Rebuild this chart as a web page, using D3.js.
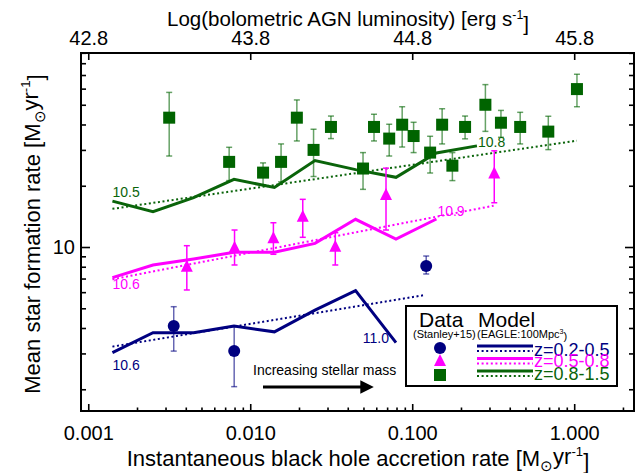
<!DOCTYPE html>
<html>
<head>
<meta charset="utf-8">
<script src="https://cdn.jsdelivr.net/npm/d3@7"></script>
<style>
  body { margin: 0; background: #fff; }
  text { font-family: "Liberation Sans", Arial, sans-serif; }
</style>
</head>
<body>
<div id="chart"></div>
<script>
// Stanley+15 data: black hole accretion rate, mean SFR, error bar low / high
const greenBHAR = [0.00316, 0.00741, 0.0120, 0.0155, 0.0194, 0.0246, 0.0315, 0.0497, 0.0581, 0.0721,
  0.0867, 0.102, 0.129, 0.153, 0.177, 0.212, 0.283, 0.353, 0.464, 0.692, 1.04];
const greenSFR = [43.2, 26.2, 23.2, 26.2, 43.2, 30.0, 38.9, 24.3, 38.9, 34.1,
  39.9, 35.1, 29.1, 39.9, 25.1, 38.9, 50.0, 40.8, 38.9, 36.9, 59.7];
const greenLo = [28.0, 21.2, 20.2, 20.9, 33.2, 22.2, 34.1, 19.2, 33.2, 28.0,
  31.0, 29.1, 23.1, 32.1, 21.2, 34.0, 37.0, 34.6, 32.1, 30.1, 48.9];
const greenHi = [57.5, 30.9, 25.9, 32.1, 52.8, 37.9, 44.0, 29.1, 44.9, 40.1,
  48.9, 41.0, 35.0, 47.8, 29.1, 44.0, 62.8, 46.9, 45.9, 43.9, 70.6];

const pinkBHAR = [0.00406, 0.00800, 0.0139, 0.0211, 0.0335, 0.0689, 0.321];
const pinkSFR = [8.00, 9.92, 11.04, 14.09, 10.03, 18.0, 23.0];
const pinkLo = [6.15, 8.16, 9.21, 11.16, 8.16, 12.12, 16.5];
const pinkHi = [10.15, 12.12, 13.16, 17.15, 11.76, 24.4, 29.7];

const blueBHAR = [0.00337, 0.00796, 0.122];
const blueSFR = [4.09, 3.08, 8.07];
const blueLo = [3.08, 2.06, 7.37];
const blueHi = [5.09, 4.09, 9.03];

// EAGLE model curves, on a common accretion-rate grid
const modelBHAR = [0.00141, 0.00251, 0.00447, 0.00794, 0.0141, 0.0251, 0.0447, 0.0794, 0.141, 0.251];
const greenModel = [16.8, 14.9, 17.5, 21.5, 19.6, 26.6, 24.0, 22.0, 29.0, 31.4];
const pinkModel = [7.07, 8.16, 8.73, 9.42, 9.42, 10.42, 13.68, 10.95, 13.73];
const blueModel = [3.03, 3.79, 3.79, 4.09, 3.83, 4.90, 6.10, 3.39];

// straight fits (end points)
const greenFit = [[0.00141, 15.4], [1.04, 33.3]];
const pinkFit = [[0.00141, 6.94], [0.318, 15.96]];
const blueFit = [[0.00141, 3.24], [0.120, 5.81]];

// stellar mass labels at start / end of each model curve
const greenMass = ['10.5', '10.8'];
const pinkMass = ['10.6', '10.9'];
const blueMass = ['10.6', '11.0'];

const legendZ = ['z=0.2-0.5', 'z=0.5-0.8', 'z=0.8-1.5'];
const xMajor = [0.001, 0.01, 0.1, 1];
const lbolTicks = [42.8, 43.8, 44.8, 45.8];

const GREEN = '#006400', GREEN_LINE = '#0a640a', PINK = '#ff00ff', BLUE = '#000080';

const W = 640, H = 473;
const m = {left: 81, right: 6, top: 53, bottom: 62};

const svg = d3.select('#chart').append('svg')
  .attr('width', W).attr('height', H);
svg.append('rect').attr('width', W).attr('height', H).attr('fill', '#fff');

const x = d3.scaleLog().domain([0.000902, 2.34]).range([m.left, W - m.right]);
// top axis: log L_bol = 45.8 + log(BHAR)
const xTop = d3.scaleLinear()
  .domain(x.domain().map(v => 45.8 + Math.log10(v)))
  .range(x.range());
const y = d3.scaleLog().domain([1.564, 89.8]).range([H - m.bottom, m.top]);

const minorX = [];
[0.001, 0.01, 0.1, 1].forEach(d => { for (let k = 2; k <= 9; k++) if (d * k < 2.34) minorX.push(d * k); });
const minorY = [];
[1, 10].forEach(d => { for (let k = 2; k <= 9; k++) minorY.push(d * k); });

function styleAxis(g) {
  g.select('.domain').remove();
  g.selectAll('.tick line').attr('stroke', '#000').attr('stroke-width', 1.6);
  g.selectAll('text').attr('font-size', 20).attr('fill', '#000')
    .style('font-family', '"Liberation Sans", Arial, sans-serif');
}

// bottom axis
svg.append('g').attr('transform', `translate(0,${H - m.bottom})`)
  .call(d3.axisBottom(x).tickValues(xMajor).tickFormat(d3.format('.3f'))
    .tickSize(-7).tickSizeOuter(0).tickPadding(15))
  .call(styleAxis);
svg.append('g').attr('transform', `translate(0,${H - m.bottom})`)
  .call(d3.axisBottom(x).tickValues(minorX).tickFormat('').tickSize(-3.5).tickSizeOuter(0))
  .call(styleAxis);

// top axis
svg.append('g').attr('transform', `translate(0,${m.top})`)
  .call(d3.axisTop(xTop).tickValues(lbolTicks).tickFormat(d3.format('.1f'))
    .tickSize(-7).tickSizeOuter(0).tickPadding(8))
  .call(styleAxis);

// left / right axes
svg.append('g').attr('transform', `translate(${m.left},0)`)
  .call(d3.axisLeft(y).tickValues([10]).tickFormat(d3.format('d'))
    .tickSize(-9).tickSizeOuter(0).tickPadding(6))
  .call(styleAxis);
svg.append('g').attr('transform', `translate(${m.left},0)`)
  .call(d3.axisLeft(y).tickValues(minorY).tickFormat('').tickSize(-5).tickSizeOuter(0))
  .call(styleAxis);
svg.append('g').attr('transform', `translate(${W - m.right},0)`)
  .call(d3.axisRight(y).tickValues([10]).tickFormat('').tickSize(-9).tickSizeOuter(0))
  .call(styleAxis);
svg.append('g').attr('transform', `translate(${W - m.right},0)`)
  .call(d3.axisRight(y).tickValues(minorY).tickFormat('').tickSize(-5).tickSizeOuter(0))
  .call(styleAxis);

// frame
svg.append('rect')
  .attr('x', m.left).attr('y', m.top)
  .attr('width', W - m.left - m.right).attr('height', H - m.top - m.bottom)
  .attr('fill', 'none').attr('stroke', '#000').attr('stroke-width', 2);

// axis titles
function msunYr(t, pre) {
  t.append('tspan').text(pre + 'M');
  t.append('tspan').text('\u2299').attr('font-size', '0.7em').attr('dy', '0.3em');
  t.append('tspan').text('yr').attr('dy', '-0.3em');
  t.append('tspan').text('-1').attr('font-size', '0.6em').attr('dy', '-0.6em');
  t.append('tspan').text(']').attr('dy', '0.6em');
}
const bt = svg.append('text').attr('x', 358).attr('y', 466)
  .attr('text-anchor', 'middle').attr('font-size', 22);
msunYr(bt, 'Instantaneous black hole accretion rate [');

const lt = svg.append('text').attr('transform', 'translate(40,234) rotate(-90)')
  .attr('text-anchor', 'middle').attr('font-size', 22);
msunYr(lt, 'Mean star formation rate [');

const tt = svg.append('text').attr('x', 348).attr('y', 26)
  .attr('text-anchor', 'middle').attr('font-size', 20.5);
tt.append('tspan').text('Log(bolometric AGN luminosity) [erg s');
tt.append('tspan').text('-1').attr('font-size', '0.6em').attr('dy', '-0.6em');
tt.append('tspan').text(']').attr('dy', '0.6em');

// model curves
const line = d3.line().x(d => x(d[0])).y(d => y(d[1]));
const plot = svg.append('g');

function drawModel(vals, fit, color, mass, startOff, endOff) {
  const pts = vals.map((v, i) => [modelBHAR[i], v]);
  plot.append('path').datum(fit).attr('d', line)
    .attr('fill', 'none').attr('stroke', color).attr('stroke-width', 2)
    .attr('stroke-dasharray', '2,2.6');
  plot.append('path').datum(pts).attr('d', line)
    .attr('fill', 'none').attr('stroke', color).attr('stroke-width', 3);
  const a = pts[0], b = pts[pts.length - 1];
  plot.append('text').attr('x', x(a[0])).attr('y', y(a[1]) + startOff)
    .attr('font-size', 14).attr('fill', color).text(mass[0]);
  plot.append('text').attr('x', x(b[0]) + endOff[0]).attr('y', y(b[1]) + endOff[1])
    .attr('text-anchor', endOff[2]).attr('font-size', 14).attr('fill', color).text(mass[1]);
}
drawModel(greenModel, greenFit, GREEN_LINE, greenMass, -4, [1, 1, 'start']);
drawModel(pinkModel, pinkFit, PINK, pinkMass, 11, [1, -3, 'start']);
drawModel(blueModel, blueFit, BLUE, blueMass, 17, [-7, 0, 'end']);

// data points with error bars
function drawMarker(g, shape, cx, cy, color) {
  if (shape === 'square') {
    g.append('rect').attr('x', cx - 6).attr('y', cy - 6).attr('width', 12).attr('height', 12).attr('fill', color);
  } else if (shape === 'circle') {
    g.append('circle').attr('cx', cx).attr('cy', cy).attr('r', 6).attr('fill', color);
  } else {
    g.append('path').attr('d', `M${cx},${cy - 7}L${cx + 6},${cy + 5}L${cx - 6},${cy + 5}Z`).attr('fill', color);
  }
}
function drawData(bx, sfr, lo, hi, color, barColor, shape) {
  const g = plot.append('g');
  bx.forEach((v, i) => {
    const cx = x(v), cy = y(sfr[i]);
    const e = g.append('g').attr('stroke', barColor).attr('stroke-width', 1.5);
    e.append('line').attr('x1', cx).attr('x2', cx).attr('y1', y(lo[i])).attr('y2', y(hi[i]));
    e.append('line').attr('x1', cx - 3).attr('x2', cx + 3).attr('y1', y(lo[i])).attr('y2', y(lo[i]));
    e.append('line').attr('x1', cx - 3).attr('x2', cx + 3).attr('y1', y(hi[i])).attr('y2', y(hi[i]));
    drawMarker(g, shape, cx, cy, color);
  });
}
drawData(greenBHAR, greenSFR, greenLo, greenHi, GREEN, 'rgba(0,100,0,0.6)', 'square');
drawData(pinkBHAR, pinkSFR, pinkLo, pinkHi, PINK, PINK, 'triangle');
drawData(blueBHAR, blueSFR, blueLo, blueHi, BLUE, 'rgba(0,0,128,0.6)', 'circle');

// annotation
svg.append('text').attr('x', 253).attr('y', 375).attr('font-size', 14).text('Increasing stellar mass');
svg.append('defs').append('marker').attr('id', 'ah')
  .attr('viewBox', '0 0 10 10').attr('refX', 2).attr('refY', 5)
  .attr('markerWidth', 4.5).attr('markerHeight', 4.5).attr('orient', 'auto')
  .append('path').attr('d', 'M0,0L10,5L0,10Z').attr('fill', '#000');
svg.append('line').attr('x1', 263).attr('x2', 363).attr('y1', 387).attr('y2', 387)
  .attr('stroke', '#000').attr('stroke-width', 3).attr('marker-end', 'url(#ah)');

// legend
const lg = svg.append('g');
lg.append('rect').attr('x', 406).attr('y', 306).attr('width', 211).attr('height', 80)
  .attr('fill', '#fff').attr('stroke', '#000').attr('stroke-width', 2);
lg.append('text').attr('x', 419).attr('y', 327).attr('font-size', 21).text('Data');
lg.append('text').attr('x', 478).attr('y', 327).attr('font-size', 21).text('Model');
lg.append('text').attr('x', 413).attr('y', 338).attr('font-size', 11).text('(Stanley+15)');
const em = lg.append('text').attr('x', 477).attr('y', 338).attr('font-size', 11);
em.append('tspan').text('(EAGLE:100Mpc');
em.append('tspan').text('3').attr('font-size', '0.65em').attr('dy', '-0.5em');
em.append('tspan').text(')').attr('dy', '0.5em');

const legColors = [BLUE, PINK, GREEN_LINE];
const markColors = [BLUE, PINK, GREEN];
const legShapes = ['circle', 'triangle', 'square'];
const legRowY = [348, 361, 375];
const legSolidY = [346, 358.5, 371];
const legTextY = [356, 367, 380];
legendZ.forEach((z, i) => {
  drawMarker(lg, legShapes[i], 440, legRowY[i], markColors[i]);
  lg.append('line').attr('x1', 477).attr('x2', 533).attr('y1', legSolidY[i]).attr('y2', legSolidY[i])
    .attr('stroke', legColors[i]).attr('stroke-width', 3);
  lg.append('line').attr('x1', 477).attr('x2', 533).attr('y1', legSolidY[i] + 5).attr('y2', legSolidY[i] + 5)
    .attr('stroke', legColors[i]).attr('stroke-width', 2).attr('stroke-dasharray', '2,2.6');
  lg.append('text').attr('x', 534).attr('y', legTextY[i]).attr('font-size', 18)
    .attr('fill', legColors[i]).text(z);
});
</script>
</body>
</html>
